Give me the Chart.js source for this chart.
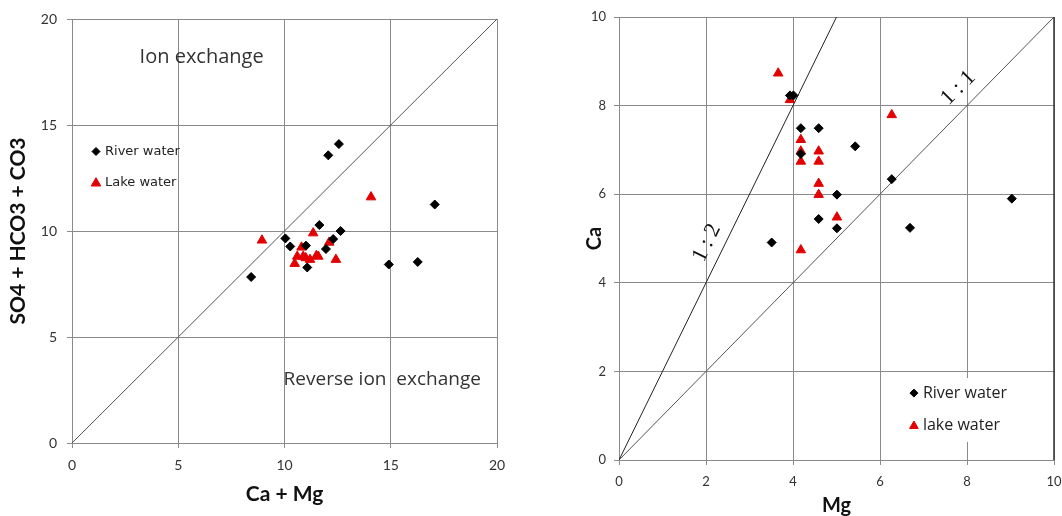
<!DOCTYPE html>
<html>
<head>
<meta charset="utf-8">
<script src="https://cdn.jsdelivr.net/npm/chart.js@4"></script>
<style>
  body { margin: 0; background: #fff; overflow: hidden; }
  .box { position: absolute; top: 0; }
</style>
</head>
<body>
<div class="box" style="left:0;width:520px;height:516px"><canvas id="ionChart" width="520" height="516"></canvas></div>
<div class="box" style="left:560px;width:502px;height:516px"><canvas id="ratioChart" width="502" height="516"></canvas></div>
<script>
// Left panel: SO4 + HCO3 + CO3 vs Ca + Mg
const riverCaMg = [8.43, 10.04, 10.27, 11.01, 11.07, 11.64, 12.06, 12.56, 12.64, 12.29, 11.95, 14.91, 16.27, 17.07];
const riverAnions = [7.83, 9.65, 9.27, 9.31, 8.28, 10.28, 13.57, 14.10, 10.00, 9.62, 9.15, 8.42, 8.54, 11.25];
const lakeCaMg = [8.94, 11.35, 14.07, 12.42, 12.10, 10.80, 10.60, 10.48, 11.00, 11.50, 11.20, 10.88, 11.59];
const lakeAnions = [9.56, 9.90, 11.60, 8.65, 9.46, 9.23, 8.80, 8.46, 8.73, 8.83, 8.65, 8.80, 8.80];
const ionTicks = [0, 5, 10, 15, 20];
const equiline = [0, 20];

// Right panel: Ca vs Mg
const riverMg = [3.51, 3.93, 4.01, 4.18, 4.59, 4.18, 4.59, 5.01, 5.01, 5.43, 6.27, 6.69, 9.03];
const riverCa = [4.91, 8.23, 8.23, 7.49, 7.49, 6.91, 5.44, 5.99, 5.23, 7.08, 6.34, 5.24, 5.90];
const lakeMg = [3.66, 3.93, 4.18, 4.18, 4.18, 4.59, 4.59, 4.59, 4.59, 5.01, 4.18, 6.27];
const lakeCa = [8.73, 8.13, 7.23, 6.97, 6.74, 6.97, 6.74, 6.24, 5.99, 5.48, 4.74, 7.79];
const ratioTicks = [0, 2, 4, 6, 8, 10];
const oneToOneMg = [0, 10];
const oneToOneCa = [0, 10];
const oneToTwoMg = [0, 5];
const oneToTwoCa = [0, 10];

const RED = 'rgb(226,0,0)';
const GRID = '#8a8a8a';
const TEXT = '#333';

Chart.defaults.font.family = 'Lato, "Open Sans", sans-serif';
Chart.defaults.color = TEXT;

const toPoints = (xs, ys) => xs.map((x, i) => ({ x: x, y: ys[i] }));

function axis(ticks, cfg) {
    return {
        type: 'linear',
        min: ticks[0],
        max: ticks[ticks.length - 1],
        afterBuildTicks: (scale) => { scale.ticks = ticks.map((v) => ({ value: v })); },
        afterFit: cfg.fit,
        grid: { color: GRID, lineWidth: 1, tickLength: 5 },
        border: { color: GRID },
        ticks: { padding: cfg.tickPad, font: { size: cfg.tickSize }, color: TEXT },
        title: {
            display: true,
            text: cfg.title,
            color: '#111',
            font: { size: cfg.titleSize, weight: 'bold', lineHeight: cfg.titleLH || 1.2 },
            padding: cfg.titlePad,
        },
    };
}

// draws free text, legends etc. at data coordinates
function notesPlugin(draw) {
    return {
        id: 'notes',
        afterDatasetsDraw(chart) {
            const ctx = chart.ctx;
            const sx = chart.scales.x, sy = chart.scales.y;
            const px = (v) => sx.getPixelForValue(v);
            const py = (v) => sy.getPixelForValue(v);
            ctx.save();
            draw(ctx, px, py);
            ctx.restore();
        },
    };
}

function marker(ctx, style, color, x, y, r) {
    ctx.fillStyle = color;
    ctx.strokeStyle = color;
    ctx.lineWidth = 1;
    Chart.helpers.drawPoint(ctx, { pointStyle: style, radius: r, borderWidth: 1 }, x, y);
}

function label(ctx, text, x, y, font, color, align, angle) {
    ctx.save();
    ctx.translate(x, y);
    if (angle) ctx.rotate(angle * Math.PI / 180);
    ctx.font = font;
    ctx.fillStyle = color;
    ctx.textAlign = align || 'center';
    ctx.textBaseline = 'middle';
    ctx.fillText(text, 0, 0);
    ctx.restore();
}

new Chart(document.getElementById('ionChart').getContext('2d'), {
    type: 'scatter',
    data: {
        datasets: [
            {
                label: 'River water',
                data: toPoints(riverCaMg, riverAnions),
                pointStyle: 'rectRot',
                pointRadius: 4.5,
                backgroundColor: '#000',
                borderColor: '#000',
            },
            {
                label: 'Lake water',
                data: toPoints(lakeCaMg, lakeAnions),
                pointStyle: 'triangle',
                pointRadius: 5.5,
                backgroundColor: RED,
                borderColor: RED,
            },
            {
                type: 'line',
                data: toPoints(equiline, equiline),
                borderColor: '#555',
                borderWidth: 1,
                pointRadius: 0,
            },
        ],
    },
    options: {
        responsive: false,
        animation: false,
        events: [],
        layout: { padding: { top: 19, right: 23, left: 0, bottom: 0 } },
        plugins: { legend: { display: false }, tooltip: { enabled: false } },
        scales: {
            x: axis(ionTicks, {
                title: 'Ca + Mg', titleSize: 21, titlePad: { top: 0, bottom: 9 },
                tickPad: 9, tickSize: 14, fit: (s) => { s.height = 73; },
            }),
            y: axis(ionTicks, {
                title: 'SO4 + HCO3 + CO3', titleSize: 21, titlePad: { top: 6, bottom: 0 },
                tickPad: 10, tickSize: 14, fit: (s) => { s.width = 72; },
            }),
        },
    },
    plugins: [notesPlugin((ctx, px, py) => {
        label(ctx, 'Ion exchange', px(6.1), py(18.2), '20px "Open Sans"', '#333');
        label(ctx, 'Reverse ion  exchange', px(14.6), py(3.0), '19px "Open Sans"', '#333');
        const lx = px(1.13);
        marker(ctx, 'rectRot', '#000', lx, py(13.75), 4);
        label(ctx, 'River water', lx + 9, py(13.75), '13px "DejaVu Sans"', '#222', 'left');
        marker(ctx, 'triangle', RED, lx, py(12.3) + 1, 5.5);
        label(ctx, 'Lake water', lx + 9, py(12.3), '13px "DejaVu Sans"', '#222', 'left');
    })],
});

new Chart(document.getElementById('ratioChart').getContext('2d'), {
    type: 'scatter',
    data: {
        datasets: [
            {
                label: 'River water',
                data: toPoints(riverMg, riverCa),
                pointStyle: 'rectRot',
                pointRadius: 4.5,
                backgroundColor: '#000',
                borderColor: '#000',
            },
            {
                label: 'lake water',
                data: toPoints(lakeMg, lakeCa),
                pointStyle: 'triangle',
                pointRadius: 5.5,
                backgroundColor: RED,
                borderColor: RED,
            },
            {
                type: 'line',
                data: toPoints(oneToTwoMg, oneToTwoCa),
                borderColor: '#222',
                borderWidth: 1,
                pointRadius: 0,
            },
            {
                type: 'line',
                data: toPoints(oneToOneMg, oneToOneCa),
                borderColor: '#555',
                borderWidth: 1,
                pointRadius: 0,
            },
        ],
    },
    options: {
        responsive: false,
        animation: false,
        events: [],
        layout: { padding: { top: 17, right: 8, left: 0, bottom: 0 } },
        plugins: { legend: { display: false }, tooltip: { enabled: false } },
        scales: {
            x: axis(ratioTicks, {
                title: 'Mg', titleSize: 20, titleLH: 1, titlePad: { top: 0, bottom: 0 },
                tickPad: 9, tickSize: 13,
                // let the last tick label run off the edge like the original
                fit: (s) => { s.height = 56; s.paddingRight = 0; },
            }),
            y: axis(ratioTicks, {
                title: 'Ca', titleSize: 20, titleLH: 1, titlePad: { top: 25, bottom: 0 },
                tickPad: 8, tickSize: 13, fit: (s) => { s.width = 59; },
            }),
        },
    },
    plugins: [notesPlugin((ctx, px, py) => {
        // right frame edge
        ctx.strokeStyle = '#333';
        ctx.lineWidth = 1.5;
        ctx.beginPath();
        ctx.moveTo(px(10), py(10));
        ctx.lineTo(px(10), py(0));
        ctx.stroke();
        label(ctx, '1 : 1', px(7.8), py(8.4), '22px "Liberation Serif"', '#111', 'center', -45);
        label(ctx, '1 : 2', px(2.02), py(4.9), '22px "Liberation Serif"', '#111', 'center', -64);
        // legend box
        ctx.fillStyle = '#fff';
        ctx.fillRect(px(6.46), py(1.85), px(9.1) - px(6.46), py(0.41) - py(1.85));
        const lx = px(6.78);
        marker(ctx, 'rectRot', '#000', lx, py(1.51), 4);
        label(ctx, 'River water', lx + 9, py(1.51), '16px "Open Sans"', '#222', 'left');
        marker(ctx, 'triangle', RED, lx, py(0.79) + 1, 5);
        label(ctx, 'lake water', lx + 9, py(0.79), '16px "Open Sans"', '#222', 'left');
    })],
});
</script>
</body>
</html>
